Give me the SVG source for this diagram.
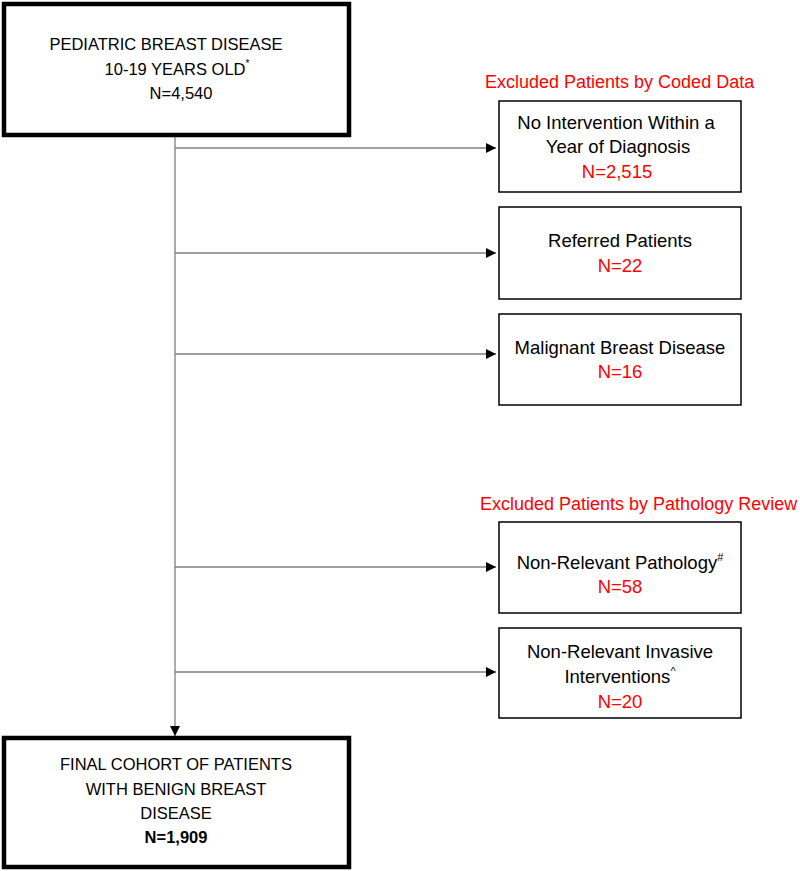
<svg xmlns="http://www.w3.org/2000/svg" width="800" height="871" viewBox="0 0 800 871">
<style>
text{font-family:"Liberation Sans",Arial,sans-serif;font-size:18.5px;fill:#000;text-anchor:middle}
.red{fill:#ff0000}
.hdr{fill:#ff0000;text-anchor:start;font-size:18px}
.bt{font-size:16.5px}
.big{fill:#fff;stroke:#000;stroke-width:4.5}
.box{fill:#fff;stroke:#000;stroke-width:1.5}
.ln{stroke:#7f7f7f;stroke-width:1.3;fill:none}
</style>
<defs>
<marker id="ah" viewBox="0 0 10 10" refX="10" refY="5" markerWidth="10" markerHeight="10" markerUnits="userSpaceOnUse" orient="auto">
<path d="M0,0 L10,5 L0,10 z" fill="#000"/>
</marker>
</defs>
<g id="connectors">
<path class="ln" d="M175,135 V736" marker-end="url(#ah)"/>
<path class="ln" d="M175,148 H496" marker-end="url(#ah)"/>
<path class="ln" d="M175,253 H496" marker-end="url(#ah)"/>
<path class="ln" d="M175,354 H496" marker-end="url(#ah)"/>
<path class="ln" d="M175,567 H496" marker-end="url(#ah)"/>
<path class="ln" d="M175,672 H496" marker-end="url(#ah)"/>
</g>
<g id="start">
<rect class="big" x="4" y="4" width="345" height="131"/>
<text class="bt" x="166" y="50">PEDIATRIC BREAST DISEASE</text>
<text class="bt" x="177" y="75">10-19 YEARS OLD<tspan font-size="10" dy="-8">*</tspan></text>
<text class="bt" x="181" y="99">N=4,540</text>
</g>
<g id="hdr1"><text class="hdr" x="485" y="88">Excluded Patients by Coded Data</text></g>
<g id="ex1">
<rect class="box" x="499" y="101" width="242" height="91"/>
<text x="616" y="129">No Intervention Within a</text>
<text x="618" y="153">Year of Diagnosis</text>
<text class="red" x="617" y="178">N=2,515</text>
</g>
<g id="ex2">
<rect class="box" x="499" y="207" width="242" height="92"/>
<text x="620" y="247">Referred Patients</text>
<text class="red" x="620" y="272">N=22</text>
</g>
<g id="ex3">
<rect class="box" x="499" y="314" width="242" height="91"/>
<text x="620" y="354">Malignant Breast Disease</text>
<text class="red" x="620" y="378">N=16</text>
</g>
<g id="hdr2"><text class="hdr" x="480" y="510">Excluded Patients by Pathology Review</text></g>
<g id="ex4">
<rect class="box" x="499" y="522" width="242" height="91"/>
<text x="620" y="569">Non-Relevant Pathology<tspan font-size="11" dy="-8">#</tspan></text>
<text class="red" x="620" y="593">N=58</text>
</g>
<g id="ex5">
<rect class="box" x="499" y="628" width="242" height="90"/>
<text x="620" y="658">Non-Relevant Invasive</text>
<text x="620" y="683">Interventions<tspan font-size="11" dy="-8">^</tspan></text>
<text class="red" x="620" y="708">N=20</text>
</g>
<g id="final">
<rect class="big" x="4" y="738" width="345" height="129"/>
<text class="bt" x="176" y="770">FINAL COHORT OF PATIENTS</text>
<text class="bt" x="176" y="795">WITH BENIGN BREAST</text>
<text class="bt" x="176" y="819">DISEASE</text>
<text class="bt" x="176" y="843" font-weight="bold">N=1,909</text>
</g>
</svg>
